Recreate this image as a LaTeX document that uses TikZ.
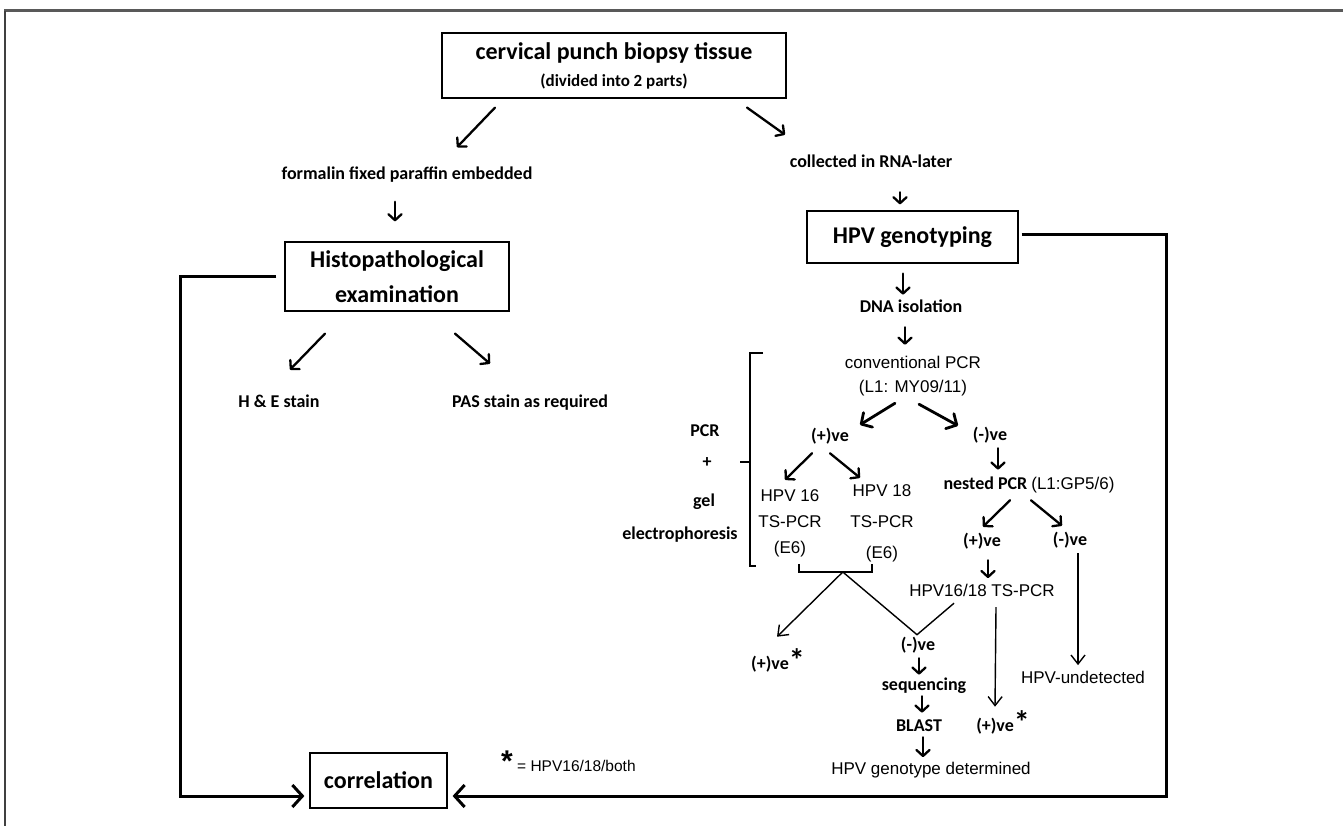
\documentclass[tikz,border=0pt]{standalone}
\usepackage{fontspec}
\setmainfont{Carlito}
\newfontfamily\arialfont{Liberation Sans}
\usetikzlibrary{arrows.meta}
\tikzset{
  stepbox/.style = {draw, line width=1.2pt, inner sep=0pt, align=center,
    font=\fontsize{24}{35}\selectfont\bfseries},
  lbl/.style = {inner sep=0pt, text height=12.6pt, text depth=3.6pt,
    font=\fontsize{18}{22}\selectfont\bfseries},
  ari/.style = {inner sep=0pt, text height=11.9pt, text depth=3.4pt,
    font=\arialfont\fontsize{17}{22}\selectfont},
  arim/.style = {inner sep=0pt, align=center,
    font=\arialfont\fontsize{17}{#1}\selectfont},
  arr/.style = {line width=2.3pt, line cap=round,
    -{Straight Barb[round,length=6pt,width=13pt]}},
  bigarr/.style = {line width=2.8pt, line cap=round,
    -{Straight Barb[round,length=8pt,width=17pt]}},
  thinarr/.style = {line width=1.4pt, -{Straight Barb[length=9pt,width=14pt]}},
  tline/.style = {line width=1.4pt},
  conn/.style = {line width=3pt, -{Straight Barb[length=10pt,width=22pt]}}
}
\newcommand{\hpvstar}{{\fontsize{32}{32}\selectfont\raisebox{-2pt}{*}}}

\begin{document}
\begin{tikzpicture}[x=1pt,y=-1pt]
  \useasboundingbox (0,0) rectangle (1343,826);
  % frame
  \draw[black!65, line width=3pt] (4,11) -- (1343,11);
  \draw[black!75, line width=2pt] (5,11) -- (5,826);

  % boxes
  \node[stepbox, minimum width=344pt, minimum height=65pt,
    font=\fontsize{24}{27}\selectfont\bfseries] (biopsy) at (614,65.5)
    {cervical punch biopsy tissue\\{\fontsize{17}{20}\selectfont (divided into 2 parts)}};
  \node[stepbox, minimum width=224pt, minimum height=69pt] (histo) at (397,276.5)
    {Histopathological\\examination};
  \node[stepbox, minimum width=211pt, minimum height=52pt] (geno) at (912.5,237) {HPV genotyping};
  \node[stepbox, minimum width=137pt, minimum height=55pt] (corr) at (378.5,780.5) {correlation};

  % left branch
  \node[lbl] (formalin) at (407,175.5) {formalin fixed paraffin embedded};
  \node[lbl] (he) at (279,403) {H \& E stain};
  \node[lbl] (pas) at (530,403) {PAS stain as required};

  % right branch
  \node[lbl] (collected) at (871,163) {collected in RNA-later};
  \node[lbl] (dna) at (911,308) {DNA isolation};
  \node[arim=24] (conv) at (913,375.7) {conventional PCR\\(L1: MY09/11)};
  \node[lbl] (pos1) at (830,437) {(+)ve};
  \node[lbl] (neg1) at (990,436) {(-)ve};
  \node[arim=26] (hpv16) at (790,523.7) {HPV 16\\TS-PCR\\(E6)};
  \node[arim=31] (hpv18) at (882,523.7) {HPV 18\\TS-PCR\\(E6)};
  \node[lbl] (nested) at (1029,485)
    {nested PCR {\arialfont\mdseries\fontsize{17}{22}\selectfont(L1:GP5/6)}};
  \node[lbl] (pos3) at (982,542) {(+)ve};
  \node[lbl] (neg4) at (1070,541) {(-)ve};
  \node[ari] (tspcr) at (982,592) {HPV16/18 TS-PCR};
  \node[ari] (undet) at (1083,679) {HPV-undetected};
  \node[lbl] (pos2star) at (778,665) {(+)ve\hpvstar};
  \node[lbl] (neg3) at (918,646) {(-)ve};
  \node[lbl] (seq) at (924,686) {sequencing};
  \node[lbl] (blast) at (919,727) {BLAST};
  \node[lbl] (pos4star) at (1003,727) {(+)ve\hpvstar};
  \node[ari] (gtype) at (931,770) {HPV genotype determined};

  % PCR bracket
  \node[lbl] (pcr) at (705,432) {PCR};
  \node[lbl] (plus) at (707,463) {+};
  \node[lbl] (gel) at (704,502) {gel};
  \node[lbl] (electro) at (680,535) {electrophoresis};
  \draw[line width=2.5pt] (763,353) -- (750,353) -- (750,566) -- (756,566)
    (740,462) -- (750,462);

  \node[ari, anchor=west, font=\arialfont\fontsize{15.5}{20}\selectfont] (legend) at (501,767)
    {{\fontsize{30}{30}\selectfont\bfseries *} = HPV16/18/both};

  % arrows
  \draw[arr] ([shift={(-119,9)}]biopsy.south) -- ([shift={(50,-20)}]formalin.north);
  \draw[arr] ([shift={(133,9)}]biopsy.south) -- ([shift={(-86,-20)}]collected.north);
  \draw[arr] ([shift={(-12,18)}]formalin.south) -- ([shift={(-2,-20)}]histo.north);
  \draw[arr] ([shift={(29,21)}]collected.south) -- ([shift={(-12.5,-6)}]geno.north);
  \draw[arr] ([shift={(-72,22)}]histo.south) -- ([shift={(11,-25)}]he.north);
  \draw[arr] ([shift={(58,22)}]histo.south) -- ([shift={(-40,-31)}]pas.north);
  \draw[arr] ([shift={(-9.5,10)}]geno.south) -- ([shift={(-8,-5)}]dna.north);
  \draw[arr] ([shift={(-6,11)}]dna.south) -- ([shift={(-8,-10.8)}]conv.north);
  \draw[bigarr] ([shift={(-18,7.4)}]conv.south) -- ([shift={(30,-3.9)}]pos1.north);
  \draw[bigarr] ([shift={(6,8.4)}]conv.south) -- ([shift={(-32,-2)}]neg1.north);
  \draw[arr] ([shift={(-18,8)}]pos1.south) -- ([shift={(-5,-10)}]hpv16.north);
  \draw[arr] ([shift={(0,8)}]pos1.south) -- ([shift={(-22,-7)}]hpv18.north);
  \draw[arr] ([shift={(8,4)}]neg1.south) -- ([shift={(-31,-7)}]nested.north);
  \draw[arr] ([shift={(-19,7)}]nested.south) -- ([shift={(1,-7)}]pos3.north);
  \draw[arr] ([shift={(2,7)}]nested.south) -- ([shift={(-8,-7)}]neg4.north);
  \draw[arr] ([shift={(6,10)}]pos3.south) -- ([shift={(6,-6)}]tspcr.north);
  \draw[thinarr] ([shift={(8,4)}]neg4.south) -- ([shift={(-5,-6)}]undet.north);
  \draw[thinarr] ([shift={(14,7.35)}]tspcr.south) -- ([shift={(-8,-12)}]pos4star.north);
  \draw[line width=2pt] ([shift={(9,6.4)}]hpv16.south) -- ++(0,8)
    -| coordinate[pos=0.3] (tsjoin) ([shift={(-10,1.4)}]hpv18.south);
  \draw[thinarr] (tsjoin) -- ([shift={(-1,-20)}]pos2star.north);
  \draw[tline] (tsjoin) -- ([shift={(-1,-3)}]neg3.north) -- ([shift={(-28,3.35)}]tspcr.south);
  \draw[arr] ([shift={(1,4)}]neg3.south) -- ([shift={(-5,-3)}]seq.north);
  \draw[arr] ([shift={(-2,2)}]seq.south) -- ([shift={(3,-6)}]blast.north);
  \draw[arr] ([shift={(4,2)}]blast.south) -- ([shift={(-8,-5)}]gtype.north);

  % connectors to correlation
  \draw[conn] ([xshift=-8pt]histo.west) -- ++(-96,0) |- ([shift={(-5,15.5)}]corr.west);
  \draw[conn] ([shift={(3,-2)}]geno.east) -- ++(145,0) |- ([shift={(5,15.5)}]corr.east);
\end{tikzpicture}
\end{document}
